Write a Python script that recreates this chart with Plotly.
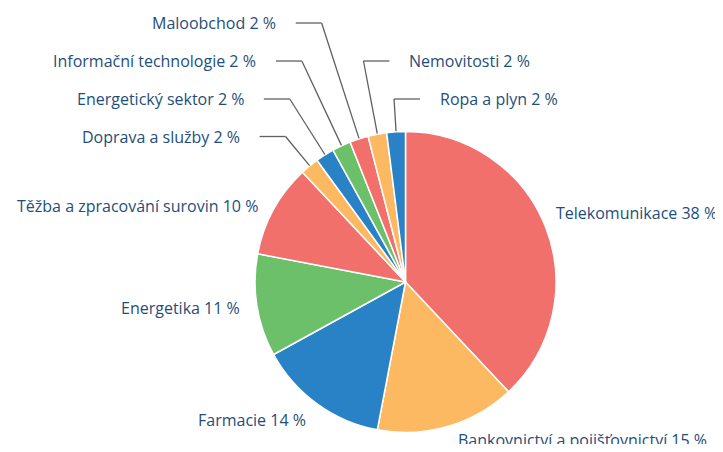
import math
import plotly.graph_objects as go

# ---- data ----
categories = ["Telekomunikace", "Bankovnictví a pojišťovnictví", "Farmacie", "Energetika",
              "Těžba a zpracování surovin", "Doprava a služby", "Energetický sektor",
              "Informační technologie", "Maloobchod", "Nemovitosti", "Ropa a plyn"]
values = [38, 15, 14, 11, 10, 2, 2, 2, 2, 2, 2]
colors = ["#f1706b", "#fdb962", "#2a82c6", "#6cc06a", "#f1706b", "#fdb962",
          "#2a82c6", "#6cc06a", "#f1706b", "#fdb962", "#2a82c6"]

# layout for stacked labels of small slices (pixel y of label row, side)
small_label_y = {"Doprava a služby": 136.5, "Energetický sektor": 99, "Informační technologie": 61,
                 "Maloobchod": 23, "Nemovitosti": 61, "Ropa a plyn": 99}
small_label_side = {"Doprava a služby": "left", "Energetický sektor": "left",
                    "Informační technologie": "left", "Maloobchod": "left",
                    "Nemovitosti": "right", "Ropa a plyn": "right"}
# small nudges (px) for the outside labels of big slices
label_dy = {"Telekomunikace": -8, "Bankovnictví a pojišťovnictví": -2, "Farmacie": 4,
            "Energetika": 0, "Těžba a zpracování surovin": 4}
label_dx = {"Telekomunikace": -5, "Bankovnictví a pojišťovnictví": 4}

OFF = 8  # page body margin
W, H = 723 - OFF, 452 - 2 * OFF
CX, CY, R = 405.5 - OFF, 282.0 - OFF, 151.0
L, T = CX - R, CY - R
S = 2 * R
TEXT_COLOR = "#1f4e7a"
LINE_COLOR = "#606060"
FONT = "Open Sans"
FSIZE = 16


def px2paper(px, py):
    return (px - L) / S, (T + S - py) / S


fig = go.Figure(go.Pie(
    labels=categories, values=values, sort=False, direction="clockwise", rotation=0,
    marker=dict(colors=colors, line=dict(color="white", width=1.5)),
    textinfo="none", hoverinfo="label+percent", showlegend=False,
))

total = sum(values)
annotations, shapes = [], []
cum = 0
for cat, v in zip(categories, values):
    mid = (cum + v / 2) / total * 2 * math.pi
    cum += v
    s, c = math.sin(mid), math.cos(mid)
    text = f"{cat} {v} %"
    if cat in small_label_y:
        ex, ey = CX + R * s, CY - R * c
        ly = small_label_y[cat] - OFF
        # elbow on the radial ray at label height
        t = (ey - ly) / c
        bx = ex + t * s
        side = small_label_side[cat]
        dirn = -1 if side == "left" else 1
        hx = bx + dirn * 26
        tx = hx + dirn * 18
        for (x0, y0, x1, y1) in [(ex, ey, bx, ly), (bx, ly, hx, ly)]:
            p0, p1 = px2paper(x0, y0), px2paper(x1, y1)
            shapes.append(dict(type="line", xref="paper", yref="paper",
                               x0=p0[0], y0=p0[1], x1=p1[0], y1=p1[1],
                               line=dict(color=LINE_COLOR, width=1.3)))
        ax, ay = px2paper(tx, ly)
        annotations.append(dict(x=ax, y=ay, xref="paper", yref="paper", text=text,
                                showarrow=False, xanchor="right" if side == "left" else "left",
                                yanchor="middle",
                                font=dict(family=FONT, size=FSIZE, color=TEXT_COLOR)))
    else:
        d = 1.1
        lx = CX + d * R * s + label_dx.get(cat, 0)
        ly = CY - d * R * c + label_dy.get(cat, 0)
        ax, ay = px2paper(lx, ly)
        annotations.append(dict(x=ax, y=ay, xref="paper", yref="paper", text=text,
                                showarrow=False, xanchor="left" if s >= 0 else "right",
                                yanchor="middle",
                                font=dict(family=FONT, size=FSIZE, color=TEXT_COLOR)))

fig.update_layout(
    width=W, height=H,
    margin=dict(l=L, r=W - (L + S), t=T, b=H - (T + S), pad=0),
    paper_bgcolor="white", plot_bgcolor="white",
    annotations=annotations, shapes=shapes,
)
fig.write_html("out.html")
